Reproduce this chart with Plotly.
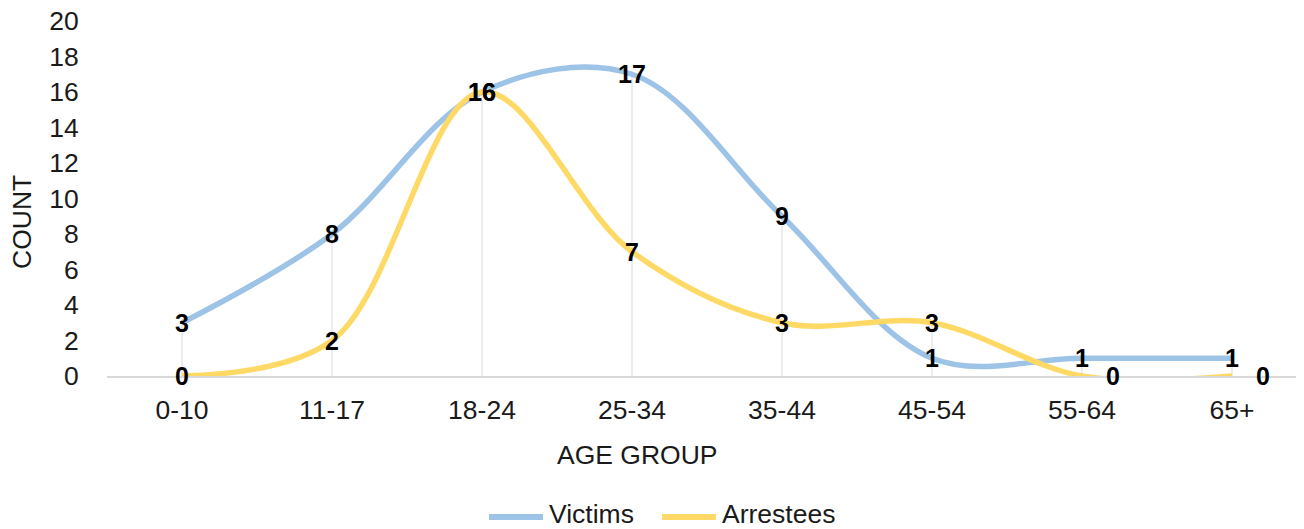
import plotly.graph_objects as go

categories = ["0-10", "11-17", "18-24", "25-34", "35-44", "45-54", "55-64", "65+"]
victims = [3, 8, 16, 17, 9, 1, 1, 1]
arrestees = [0, 2, 16, 7, 3, 3, 0, 0]
y_ticks = list(range(0, 21, 2))
series_names = ["Victims", "Arrestees"]

VIC_COLOR = "#9DC3E6"
ARR_COLOR = "#FFD966"
FONT = "Liberation Sans, Arial, sans-serif"
TXT = "#1a1a1a"
FS = 26.5

OFF = 8  # default page body margin
W, H = 1304 - OFF, 529 - OFF
L, T = 107 - OFF, 21 - OFF
B = H - (376 - OFF)
R = 0
PW, PH = W - L - R, H - T - B
x_hi = -0.5 + PW / 150.0  # keep 150 px per category


def px_x(px):  # page pixel -> paper coord
    return (px - OFF - L) / PW


def px_y(py):
    return (H - B - (py - OFF)) / PH


fig = go.Figure()

# drop lines
dx, dy = [], []
for c, v, a in zip(categories, victims, arrestees):
    dx += [c, c, None]
    dy += [0, max(v, a), None]
fig.add_trace(go.Scatter(x=dx, y=dy, mode="lines", line=dict(color="#D9D9D9", width=1),
                         showlegend=False, hoverinfo="skip"))

fig.add_trace(go.Scatter(x=categories, y=victims, name=series_names[0], mode="lines",
                         line=dict(color=VIC_COLOR, width=5.5, shape="spline", smoothing=1.0),
                         showlegend=False))
fig.add_trace(go.Scatter(x=categories, y=arrestees, name=series_names[1], mode="lines",
                         line=dict(color=ARR_COLOR, width=5.5, shape="spline", smoothing=1.0),
                         showlegend=False))

annotations = []
for c, v in zip(categories, victims):
    annotations.append(dict(x=c, y=v, xref="x", yref="y", text=f"<b>{v}</b>", showarrow=False,
                            xanchor="center", yanchor="middle",
                            font=dict(size=25, color="#000000", family=FONT)))
for i, (c, v) in enumerate(zip(categories, arrestees)):
    annotations.append(dict(x=c, y=v, xref="x", yref="y", text=f"<b>{v}</b>", showarrow=False,
                            xanchor="center", yanchor="middle", xshift=31 if i >= 6 else 0,
                            font=dict(size=25, color="#000000", family=FONT)))

# axis titles
annotations.append(dict(x=px_x(637), y=px_y(455), xref="paper", yref="paper", text="AGE GROUP",
                        showarrow=False, xanchor="center", yanchor="middle",
                        font=dict(size=FS, color=TXT, family=FONT)))
annotations.append(dict(x=px_x(22), y=px_y(222), xref="paper", yref="paper", text="COUNT",
                        showarrow=False, xanchor="center", yanchor="middle", textangle=-90,
                        font=dict(size=FS, color=TXT, family=FONT)))

# manual legend
shapes = []
legend_items = [(series_names[0], VIC_COLOR, 489, 543, 547), (series_names[1], ARR_COLOR, 662, 716, 720)]
for name, col, x0, x1, tx in legend_items:
    shapes.append(dict(type="line", xref="paper", yref="paper", x0=px_x(x0), x1=px_x(x1),
                       y0=px_y(517), y1=px_y(517), line=dict(color=col, width=6)))
    annotations.append(dict(x=px_x(tx), y=px_y(514), xref="paper", yref="paper", text=name,
                            showarrow=False, xanchor="left", yanchor="middle",
                            font=dict(size=FS, color=TXT, family=FONT)))

fig.update_layout(
    width=W, height=H,
    margin=dict(l=L, r=R, t=T, b=B, autoexpand=False, pad=0),
    paper_bgcolor="white", plot_bgcolor="white",
    font=dict(family=FONT, size=FS, color=TXT),
    showlegend=False,
    annotations=annotations,
    shapes=shapes,
    xaxis=dict(type="category", categoryorder="array", categoryarray=categories,
               range=[-0.5, x_hi], showgrid=False, showline=True, linecolor="#D9D9D9",
               linewidth=2, ticks="outside", ticklen=9, tickcolor="rgba(0,0,0,0)",
               zeroline=False, automargin=False, ticklabeloverflow="allow",
               tickfont=dict(size=FS, color=TXT)),
    yaxis=dict(range=[0, 20], tickvals=y_ticks, showgrid=False, zeroline=False,
               showline=False, ticks="outside", ticklen=22, tickcolor="rgba(0,0,0,0)",
               automargin=False, ticklabeloverflow="allow",
               tickfont=dict(size=FS, color=TXT)),
)

fig.write_html("out.html")
